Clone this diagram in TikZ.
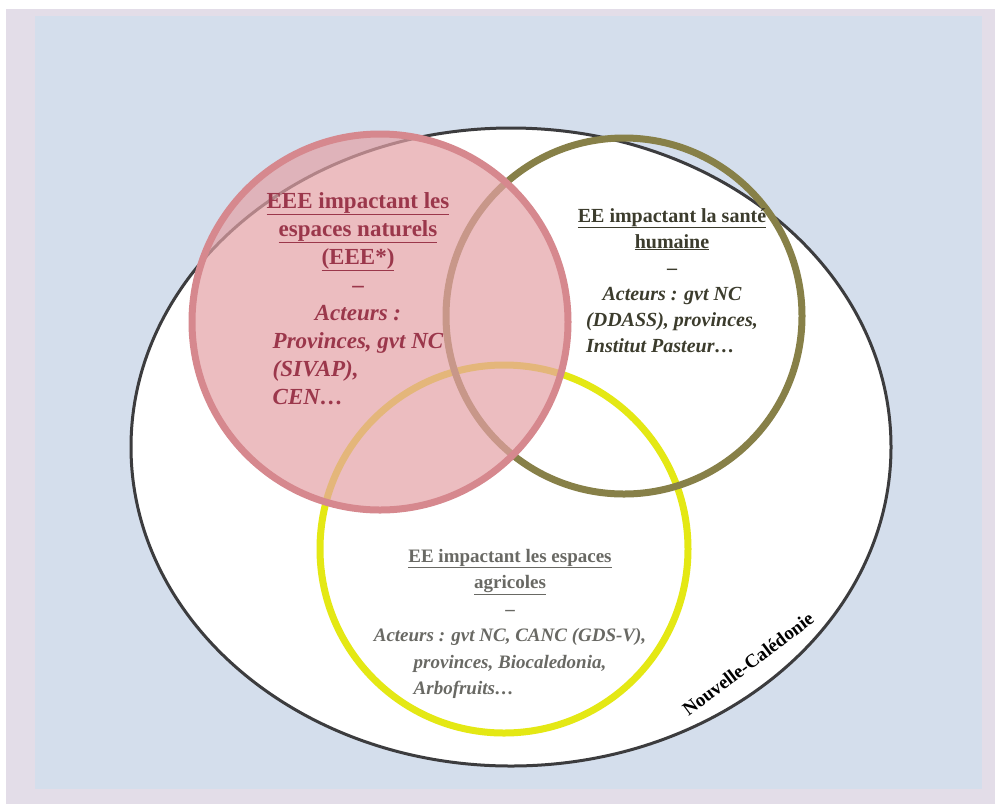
\documentclass[tikz,border=0pt]{standalone}
\usepackage{fontspec}
\setmainfont{Liberation Serif}
\definecolor{lavande}{RGB}{227,221,232}
\definecolor{fond}{RGB}{212,222,236}
\definecolor{trait}{RGB}{60,60,62}
\definecolor{rose}{RGB}{228,162,166}
\definecolor{rosebord}{RGB}{214,136,142}
\definecolor{rosetxt}{RGB}{155,55,75}
\definecolor{olive}{RGB}{135,128,72}
\definecolor{olivetxt}{RGB}{60,60,45}
\definecolor{jaune}{RGB}{228,232,20}
\definecolor{jaunetxt}{RGB}{105,105,100}
\begin{document}
\begin{tikzpicture}
[x=1pt, y=-1pt, line join=round, line cap=round,
 bloc/.style={align=center, anchor=base, inner sep=0pt}]
\useasboundingbox (0,0) rectangle (1000,807);
\fill[white] (0,0) rectangle (1000,807);
\fill[lavande] (6,9) rectangle (995,804);
\fill[fond] (35,16) rectangle (982,789);
\draw[trait, line width=3pt, fill=white] (511,447) ellipse [x radius=380pt, y radius=319pt];
% cercles
\foreach \cx/\cy/\r/\col in {504/549/184/jaune, 624/316/178/olive}
\draw[\col, line width=7pt] (\cx,\cy) circle (\r pt);
\fill[rose, fill opacity=.7] (380,322) circle (188pt);
\draw[rosebord, line width=7pt] (380,322) circle (188pt);
% textes (base = 1re ligne du tableau final)
\node[bloc, rosetxt, font=\fontsize{23}{28}\selectfont\bfseries] (nat) at (358,348)
{\underline{EEE impactant les}\\ \underline{espaces naturels}\\ \underline{(EEE*)}\\ –\\
\itshape Acteurs :\\ \itshape\begin{tabular}[t]{@{}l@{}}Provinces, gvt NC\\ (SIVAP),\\ CEN…\end{tabular}};
\node[bloc, olivetxt, font=\fontsize{20}{26}\selectfont\bfseries] (sante) at (672,326)
{\underline{EE impactant la santé}\\ \underline{humaine}\\ –\\ \itshape Acteurs : gvt NC\\
\itshape\begin{tabular}[t]{@{}l@{}}(DDASS), provinces,\\ Institut Pasteur…\end{tabular}};
\node[bloc, jaunetxt, font=\fontsize{19}{26.5}\selectfont\bfseries] (agri) at (510,668)
{\underline{EE impactant les espaces}\\ \underline{agricoles}\\ –\\ \itshape Acteurs : gvt NC, CANC (GDS-V),\\
\itshape\begin{tabular}[t]{@{}l@{}}provinces, Biocaledonia,\\ Arbofruits…\end{tabular}};
\node[rotate=37, font=\fontsize{19}{19}\selectfont\bfseries] (nc) at (748,664) {Nouvelle-Calédonie};
\end{tikzpicture}
\end{document}
